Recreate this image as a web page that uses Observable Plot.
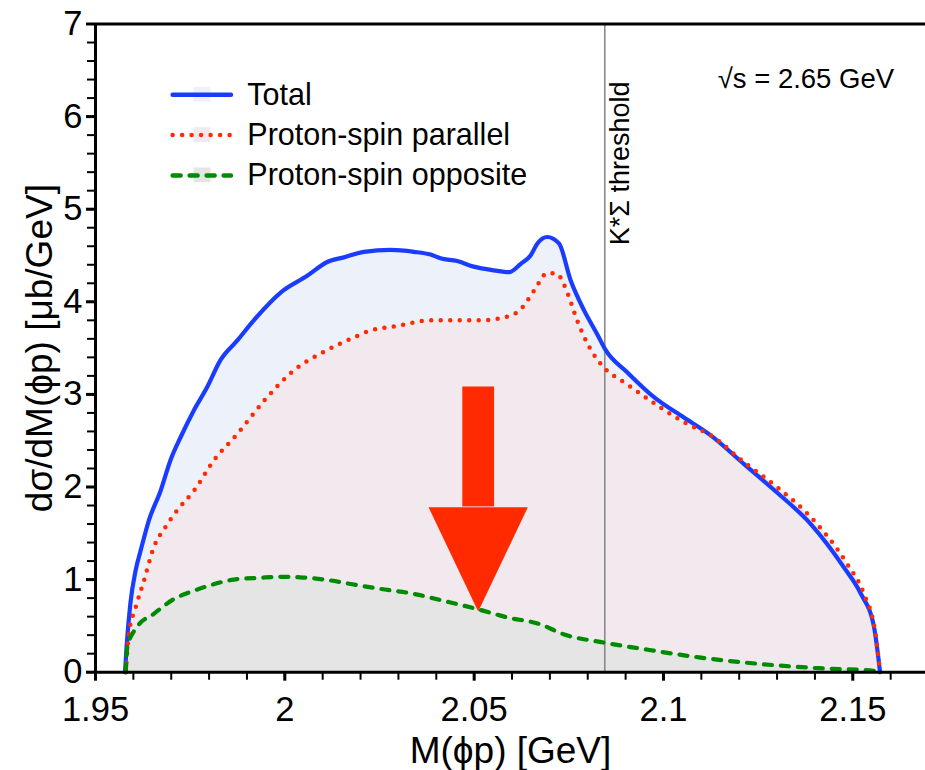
<!DOCTYPE html>
<html>
<head>
<meta charset="utf-8">
<script src="https://cdn.jsdelivr.net/npm/d3@7"></script>
<script src="https://cdn.jsdelivr.net/npm/@observablehq/plot@0.6"></script>
<style>
  html, body { margin: 0; padding: 0; background: white; overflow: hidden; }
  #chart { width: 925px; height: 770px; }
</style>
</head>
<body>
<div id="chart"></div>
<script>
// ---- Data ----
const totalX = [1.9578, 1.9582, 1.9592, 1.9606, 1.9619, 1.9641, 1.9672, 1.9698, 1.9725, 1.9760, 1.9795, 1.9830, 1.9874, 1.9918, 1.9989, 2.0059, 2.0112, 2.0156, 2.0209, 2.0279, 2.0341, 2.0385, 2.0411, 2.0455, 2.0499, 2.0552, 2.0592, 2.0623, 2.0649, 2.0667, 2.0693, 2.0724, 2.0755, 2.0790, 2.0825, 2.0847, 2.0904, 2.0975, 2.1054, 2.1124, 2.1212, 2.1300, 2.1389, 2.1477, 2.1521, 2.1556, 2.1572];
const totalY = [0, 0.27, 0.74, 1.10, 1.31, 1.64, 1.96, 2.29, 2.54, 2.83, 3.08, 3.37, 3.58, 3.80, 4.10, 4.28, 4.43, 4.48, 4.54, 4.56, 4.54, 4.51, 4.47, 4.44, 4.38, 4.34, 4.32, 4.41, 4.50, 4.63, 4.70, 4.63, 4.23, 3.91, 3.65, 3.48, 3.24, 2.97, 2.75, 2.56, 2.25, 1.94, 1.60, 1.13, 0.85, 0.49, 0];

const parallelX = [1.9580, 1.9588, 1.9606, 1.9628, 1.9654, 1.9685, 1.9716, 1.9760, 1.9813, 1.9874, 1.9945, 2.0024, 2.0094, 2.0147, 2.0174, 2.0226, 2.0297, 2.0385, 2.0446, 2.0517, 2.0578, 2.0623, 2.0658, 2.0693, 2.0719, 2.0746, 2.0772, 2.0799, 2.0834, 2.0904, 2.0992, 2.1063, 2.1124, 2.1212, 2.1300, 2.1397, 2.1485, 2.1529, 2.1560, 2.1572];
const parallelY = [0, 0.41, 0.70, 0.99, 1.35, 1.57, 1.75, 1.96, 2.29, 2.57, 2.93, 3.26, 3.44, 3.55, 3.60, 3.69, 3.74, 3.80, 3.80, 3.80, 3.83, 3.92, 4.12, 4.31, 4.30, 4.10, 3.80, 3.55, 3.33, 3.11, 2.86, 2.68, 2.56, 2.27, 2.00, 1.64, 1.17, 0.85, 0.41, 0];

const oppositeX = [1.9580, 1.9584, 1.9610, 1.9654, 1.9707, 1.9760, 1.9812, 1.9865, 1.9936, 1.9989, 2.0041, 2.0105, 2.0178, 2.0252, 2.0336, 2.0420, 2.0505, 2.0589, 2.0673, 2.0736, 2.0842, 2.0947, 2.1094, 2.1252, 2.1410, 2.1557, 2.1563];
const oppositeY = [0, 0.27, 0.49, 0.63, 0.79, 0.88, 0.95, 1.00, 1.02, 1.03, 1.025, 1.00, 0.95, 0.90, 0.85, 0.77, 0.685, 0.59, 0.52, 0.41, 0.32, 0.25, 0.16, 0.09, 0.043, 0.015, 0];

const seriesNames = ["Total", "Proton-spin parallel", "Proton-spin opposite"];
const thresholdX = [2.0845];
const thresholdLabel = ["K*Σ threshold"];
const energyLabel = ["√s = 2.65 GeV"];
const arrowTip = [{x: 2.0512, y: 0.65}];
const arrowTop = [3.08];

const xMajor = [1.95, 2, 2.05, 2.1, 2.15];
const xTickLabels = ["1.95", "2", "2.05", "2.1", "2.15"];
const yMajor = [0, 1, 2, 3, 4, 5, 6, 7];
const yTickLabels = ["0", "1", "2", "3", "4", "5", "6", "7"];
const xLabel = ["M(ϕp) [GeV]"];
const yLabel = ["dσ/dM(ϕp) [μb/GeV]"];

// ---- Build tables ----
const toRows = (xs, ys) => xs.map((x, i) => ({x, y: ys[i]}));
const total = toRows(totalX, totalY);
const parallel = toRows(parallelX, parallelY);
const opposite = toRows(oppositeX, oppositeY);

const xMinor = d3.range(195, 217).map(d => d / 100);
const yMinor = d3.range(0, 36).map(d => d / 5);

const colors = ["#1a3cff", "#ff2a00", "#008a00"];
const fills = ["#edf2fa", "#f1e9ee", "#e5e5e5"];
const dashes = [null, "0 9.5", "8 9"];
const font = "'Liberation Sans', Arial, Helvetica, sans-serif";

// arrow geometry (in data units)
const shaftHalf = 0.0042, headHalf = 0.0131, headBase = 1.775;
const tip = arrowTip[0];
const arrowHead = [
  {x: tip.x - headHalf, y1: headBase, y2: headBase},
  {x: tip.x, y1: tip.y, y2: headBase},
  {x: tip.x + headHalf, y1: headBase, y2: headBase}
];

// legend placement (data units)
const legX1 = 1.9705, legX2 = 1.9859, legTextX = 1.9901, legY0 = 6.235, legDY = 0.435;
const legendMarks = [];
seriesNames.forEach((name, i) => {
  const y = legY0 - i * legDY;
  legendMarks.push(
    Plot.rect([name], {x1: 1.9760, x2: 1.9805, y1: y - 0.08, y2: y + 0.08, fill: fills[i]}),
    Plot.ruleY([y], {x1: legX1, x2: legX2, stroke: colors[i], strokeWidth: 4.5,
      strokeDasharray: dashes[i], strokeLinecap: "round"}),
    Plot.text([name], {x: legTextX, y: y, text: d => d, textAnchor: "start",
      lineAnchor: "middle", fontSize: 30.5, fill: "black"})
  );
});

const chart = Plot.plot({
  width: 925,
  height: 770,
  marginLeft: 95,
  marginRight: 0,
  marginTop: 23.5,
  marginBottom: 98.3,
  style: {fontFamily: font, background: "white", color: "black"},
  x: {domain: [1.95, 2.1692]},
  y: {domain: [0, 7]},
  marks: [
    // fills
    Plot.areaY(total, {x: "x", y: "y", fill: fills[0], curve: "monotone-x"}),
    Plot.areaY(parallel, {x: "x", y: "y", fill: fills[1], curve: "monotone-x"}),
    Plot.areaY(opposite, {x: "x", y: "y", fill: fills[2], curve: "monotone-x"}),
    // threshold line
    Plot.ruleX(thresholdX, {y1: 0, y2: 7, stroke: "#8a8a8a", strokeWidth: 1.6}),
    Plot.text(thresholdLabel, {x: thresholdX[0], y: 4.61, text: d => d, rotate: -90,
      textAnchor: "start", lineAnchor: "bottom", dx: 24, fontSize: 27, fill: "black"}),
    // arrow
    Plot.rect(arrowTop, {x1: tip.x - shaftHalf, x2: tip.x + shaftHalf, y1: headBase + 0.01, y2: d => d, fill: "#ff2a00"}),
    Plot.areaY(arrowHead, {x: "x", y1: "y1", y2: "y2", fill: "#ff2a00"}),
    // curves
    Plot.line(total, {x: "x", y: "y", stroke: colors[0], strokeWidth: 4.2, curve: "monotone-x", strokeLinejoin: "round"}),
    Plot.line(parallel, {x: "x", y: "y", stroke: colors[1], strokeWidth: 4.5, strokeDasharray: dashes[1], strokeLinecap: "round", curve: "monotone-x"}),
    Plot.line(opposite, {x: "x", y: "y", stroke: colors[2], strokeWidth: 4.2, strokeDasharray: dashes[2], strokeLinecap: "round", curve: "monotone-x"}),
    // legend
    ...legendMarks,
    // energy label
    Plot.text(energyLabel, {x: 2.1609, y: 6.31, text: d => d, textAnchor: "end", lineAnchor: "bottom", fontSize: 27.5, fill: "black"}),
    // frame lines
    Plot.ruleY([0], {stroke: "black", strokeWidth: 3}),
    Plot.ruleY([7], {stroke: "black", strokeWidth: 3}),
    Plot.ruleX([1.95], {y1: 0, y2: 7, stroke: "black", strokeWidth: 3}),
    // axes
    Plot.axisX(xMinor, {tickSize: 8, tickFormat: () => "", strokeWidth: 2, label: null}),
    Plot.axisX({ticks: xMajor, tickSize: 9, tickPadding: 15, strokeWidth: 3,
      tickFormat: d => xTickLabels[xMajor.indexOf(d)], fontSize: 34.5, label: null}),
    Plot.axisY(yMinor, {tickSize: 8, tickFormat: () => "", strokeWidth: 2, label: null}),
    Plot.axisY({ticks: yMajor, tickSize: 9, tickPadding: 4, strokeWidth: 3,
      tickFormat: d => yTickLabels[yMajor.indexOf(d)], fontSize: 34.5, label: null}),
    // axis titles
    Plot.text(xLabel, {frameAnchor: "bottom", text: d => d, dy: 91, textAnchor: "middle", lineAnchor: "bottom", fontSize: 37, fill: "black"}),
    Plot.text(yLabel, {frameAnchor: "left", text: d => d, rotate: -90, dx: -44, textAnchor: "middle", lineAnchor: "bottom", fontSize: 37, fill: "black"})
  ]
});
document.getElementById("chart").appendChild(chart);
</script>
</body>
</html>
